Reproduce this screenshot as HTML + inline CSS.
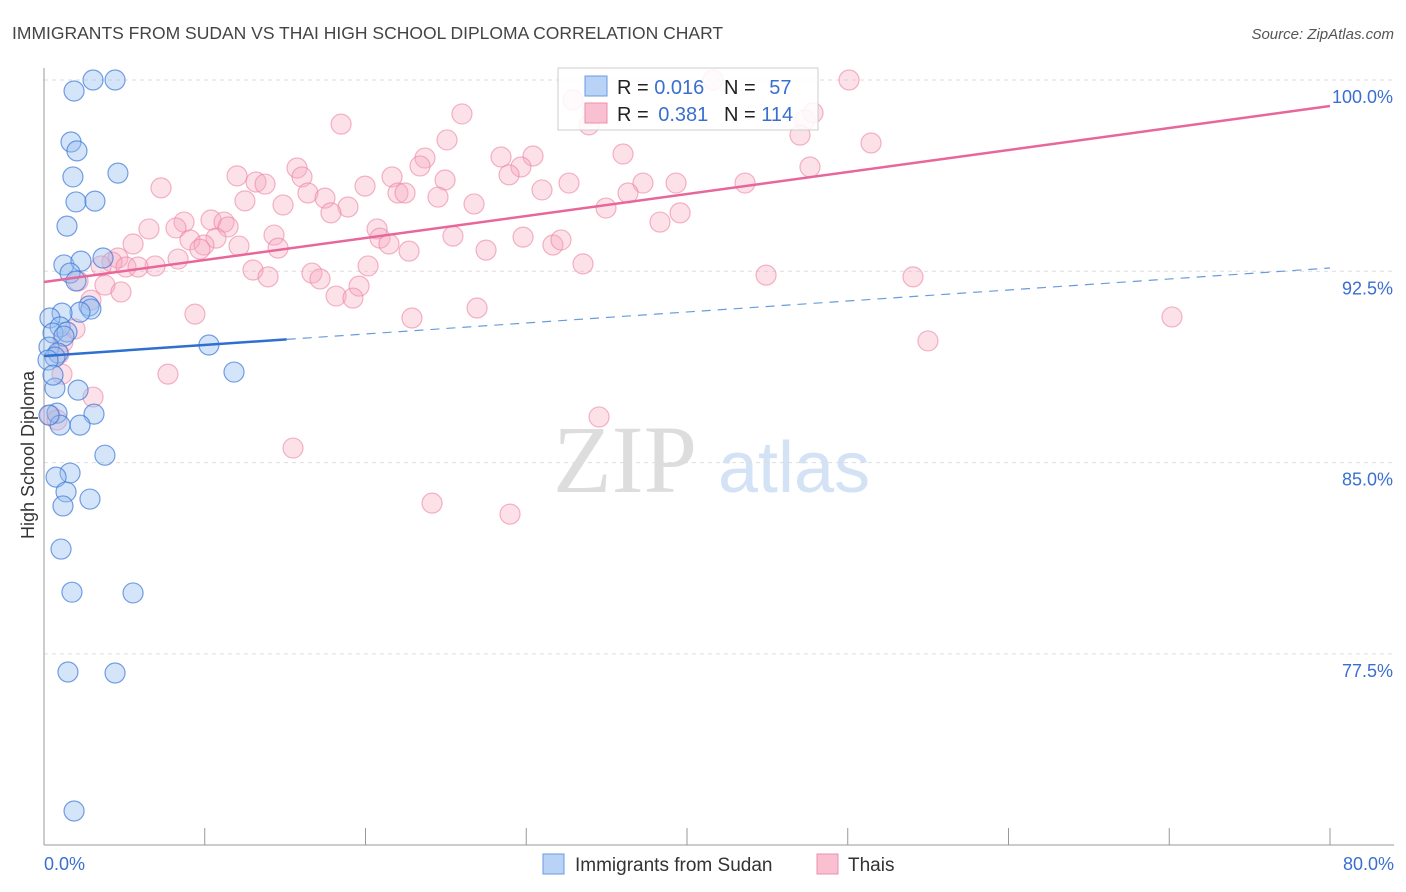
<!DOCTYPE html>
<html><head><meta charset="utf-8"><style>
body{margin:0;background:#fff;font-family:"Liberation Sans",sans-serif}
svg{display:block}
</style></head><body>
<svg id="chart" width="1406" height="892" viewBox="0 0 1406 892">
<text x="12" y="39" font-size="17.5" fill="#444">IMMIGRANTS FROM SUDAN VS THAI HIGH SCHOOL DIPLOMA CORRELATION CHART</text>
<text x="1394" y="39" font-size="15" fill="#555" font-style="italic" text-anchor="end">Source: ZipAtlas.com</text>
<text transform="translate(34,455) rotate(-90)" font-size="18" fill="#333" text-anchor="middle">High School Diploma</text>
<g>
<text x="553" y="492" font-size="96" fill="#ddd" font-family="Liberation Serif,serif">ZIP</text>
<text x="718" y="492" font-size="72" fill="#d4e2f5">atlas</text>
</g>
<g id="grid"></g>
<g id="axes"></g>
<g id="pts"></g>
<g id="lines"></g>
<g>
<rect x="558" y="68" width="260" height="62" fill="rgba(255,255,255,0.85)" stroke="#ccc"/>
<rect x="585" y="76" width="22" height="20" fill="#b8d3f5" stroke="#6a9be0"/>
<rect x="585" y="103" width="22" height="20" fill="#f8c0d0" stroke="#ec8fab"/>
<text x="617" y="94" font-size="20" fill="#222">R = <tspan fill="#3a6fd0">0.016</tspan></text>
<text x="724" y="94" font-size="20" fill="#222">N = <tspan fill="#3a6fd0" dx="8">57</tspan></text>
<text x="617" y="121" font-size="20" fill="#222">R = <tspan fill="#3a6fd0" dx="4">0.381</tspan></text>
<text x="724" y="121" font-size="20" fill="#222">N = <tspan fill="#3a6fd0">114</tspan></text>
</g>
<g>
<rect x="543" y="854" width="21" height="20" fill="#b8d3f5" stroke="#6a9be0"/>
<text x="575" y="871" font-size="19" fill="#333">Immigrants from Sudan</text>
<rect x="817" y="854" width="21" height="20" fill="#f8c0d0" stroke="#ec8fab"/>
<text x="848" y="871" font-size="19" fill="#333">Thais</text>
</g>
</svg>
<script>
const yTicks=[100,92.5,85,77.5];
const yTickLabels=["100.0%","92.5%","85.0%","77.5%"];
const xTickLabels=["0.0%","80.0%"];
const sudanX=[1.87,3.05,4.42,1.68,2.05,1.80,4.60,1.99,3.17,1.43,1.24,2.30,3.67,1.62,1.99,2.80,2.92,2.24,1.12,0.37,1.00,0.56,1.43,1.24,0.31,0.87,0.68,0.25,10.26,11.82,2.12,0.68,3.11,0.81,2.24,1.00,3.79,1.62,0.75,1.37,2.86,1.18,1.06,1.74,5.54,1.49,4.42,1.87,0.56,0.31];
const sudanY=[99.57,100,100,97.57,97.22,96.20,96.35,95.22,95.25,94.27,92.75,92.90,93.02,92.43,92.12,91.14,91.02,90.90,90.86,90.67,90.32,90.08,90.12,89.96,89.53,89.30,89.14,89.02,89.61,88.55,87.84,87.92,86.90,86.94,86.47,86.47,85.29,84.59,84.43,83.85,83.57,83.30,81.61,79.92,79.89,76.79,76.75,71.34,88.43,86.86];
const thaiX=[50.08,41.62,33.90,34.09,32.91,47.84,47.34,26.00,18.48,47.03,51.45,25.07,36.02,30.42,28.43,23.70,15.74,12.01,13.19,13.75,7.28,16.05,23.39,29.67,28.93,24.95,19.97,16.42,21.65,22.02,22.46,32.66,30.98,37.26,36.33,39.32,43.61,47.65,14.87,12.50,17.48,18.91,26.75,24.51,34.96,17.85,39.57,38.32,8.71,10.39,11.20,6.53,8.21,11.45,20.72,20.90,21.46,22.71,14.31,9.08,10.70,9.95,9.70,12.13,14.56,25.44,29.80,31.66,32.16,27.50,5.54,8.34,4.60,4.23,3.55,5.10,6.91,5.85,13.00,13.94,16.67,17.17,20.16,19.60,18.17,19.22,33.53,44.92,54.06,2.12,3.79,4.79,2.92,9.39,22.89,26.94,70.17,1.93,1.18,0.93,54.99,7.71,1.12,3.05,34.53,15.49,24.14,28.99,0.37,0.81];
const thaiY=[100,100,98.24,98.71,99.22,98.71,98.43,98.67,98.27,97.84,97.53,97.65,97.10,97.02,96.98,96.94,96.55,96.24,96.00,95.92,95.77,96.20,96.63,96.59,96.28,96.08,95.84,95.57,96.20,95.57,95.57,95.96,95.69,95.96,95.57,95.96,95.96,96.59,95.10,95.26,95.37,95.02,95.14,95.41,94.98,94.79,94.79,94.43,94.43,94.51,94.43,94.16,94.20,94.24,94.16,93.80,93.57,93.29,93.92,93.73,93.80,93.53,93.37,93.49,93.41,93.88,93.84,93.53,93.73,93.33,93.57,92.98,93.02,92.86,92.71,92.67,92.71,92.67,92.55,92.28,92.43,92.20,92.71,91.92,91.53,91.45,92.79,92.35,92.28,92.12,91.96,91.69,91.37,90.82,90.67,91.06,90.71,90.24,89.73,89.26,89.77,88.47,88.47,87.57,86.79,85.57,83.41,82.98,86.86,86.67];
const thaiTrend=[92.08,98.98];
const sudanTrend=[89.18,92.63];
const sudanSolidEnd=15.1;
const NS="http://www.w3.org/2000/svg";
const X=v=>44+v/80*1286;
const Y=v=>80+(100-v)/7.5*191.3;
function mk(tag,attrs,parent){const e=document.createElementNS(NS,tag);for(const k in attrs)e.setAttribute(k,attrs[k]);parent.appendChild(e);return e;}
const grid=document.getElementById('grid'),axes=document.getElementById('axes'),pts=document.getElementById('pts'),lines=document.getElementById('lines');
yTicks.forEach((t,i)=>{
 const g=mk('line',{x1:44,x2:1394,y1:Y(t),y2:Y(t),stroke:'#ddd','stroke-dasharray':'4,4'},grid);
 
 
 const l=mk('text',{x:1393,y:Y(t)+23,'font-size':18,fill:'#3a6fd0','text-anchor':'end'},axes);
 l.textContent=yTickLabels[i];
 
 
});
const ax=mk('line',{x1:44,x2:44,y1:68,y2:845,stroke:'#999'},axes);


const bx=mk('line',{x1:44,x2:1394,y1:845,y2:845,stroke:'#999'},axes);


for(let v=10;v<=80;v+=10){
 const t=mk('line',{x1:X(v),x2:X(v),y1:828,y2:845,stroke:'#999'},axes);
 
 
}
const xl0=mk('text',{x:44,y:870,'font-size':18,fill:'#3a6fd0'},axes);xl0.textContent=xTickLabels[0];


const xl1=mk('text',{x:1394,y:870,'font-size':18,fill:'#3a6fd0','text-anchor':'end'},axes);xl1.textContent=xTickLabels[1];


thaiX.forEach((x,i)=>{
 const c=mk('circle',{cx:X(x),cy:Y(thaiY[i]),r:10,fill:'rgba(246,168,192,0.35)',stroke:'rgba(236,130,162,0.6)','stroke-width':1.2},pts);
 
 
});
sudanX.forEach((x,i)=>{
 const c=mk('circle',{cx:X(x),cy:Y(sudanY[i]),r:10,fill:'rgba(150,190,240,0.4)',stroke:'rgba(60,120,215,0.7)','stroke-width':1.2},pts);
 
 
});
const pl=mk('line',{x1:X(0),y1:Y(thaiTrend[0]),x2:X(80),y2:Y(thaiTrend[1]),stroke:'#e8679a','stroke-width':2.5},lines);


const sy=v=>sudanTrend[0]+(sudanTrend[1]-sudanTrend[0])*v/80;
const bs=mk('line',{x1:X(0),y1:Y(sy(0)),x2:X(sudanSolidEnd),y2:Y(sy(sudanSolidEnd)),stroke:'#2e6fd0','stroke-width':2.5},lines);


const bd=mk('line',{x1:X(sudanSolidEnd),y1:Y(sy(sudanSolidEnd)),x2:X(80),y2:Y(sy(80)),stroke:'#6a9be0','stroke-width':1.2,'stroke-dasharray':'9,7'},lines);


</script>
</body></html>
